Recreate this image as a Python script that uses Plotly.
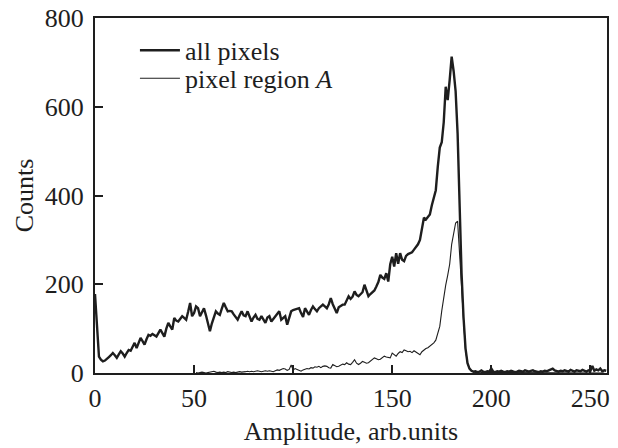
import plotly.graph_objects as go

amp_all = list(range(0, 259))
counts_all = [
    178, 110, 37, 30, 26, 28, 33, 36, 40, 45,
    40, 34, 42, 49, 44, 37, 45, 52, 50, 60,
    68, 56, 66, 79, 72, 64, 76, 86, 84, 88,
    85, 82, 90, 98, 90, 82, 100, 113, 105, 98,
    124, 118, 116, 122, 128, 124, 120, 138, 158, 128,
    135, 150, 146, 128, 138, 146, 130, 110, 94, 112,
    125, 139, 134, 131, 145, 158, 148, 139, 140, 139,
    132, 125, 120, 130, 139, 130, 128, 139, 126, 116,
    125, 131, 122, 120, 128, 120, 113, 125, 128, 116,
    122, 128, 134, 139, 120, 124, 128, 109, 125, 139,
    142, 143, 145, 146, 135, 126, 146, 138, 131, 142,
    150, 144, 139, 146, 150, 154, 150, 146, 155, 169,
    155, 146, 135, 148, 152, 154, 154, 165, 173, 167,
    172, 184, 176, 173, 178, 182, 199, 185, 173, 178,
    182, 186, 195, 205, 221, 215, 212, 225, 206, 245,
    262, 240, 270, 246, 270, 255, 252, 264, 268, 270,
    272, 278, 284, 290, 300, 330, 350, 346, 352, 357,
    378, 398, 412, 465, 508, 520, 565, 645, 615, 660,
    713, 680, 635, 540, 360, 225, 125, 55, 22, 10,
    5, 3, 4, 2, 3, 6, 3, 2, 4, 3,
    10, 3, 2, 4, 3, 5, 3, 2, 4, 3,
    5, 4, 2, 3, 5, 4, 3, 6, 4, 3,
    5, 6, 4, 3, 2, 4, 3, 5, 4, 6,
    8, 10, 6, 4, 3, 5, 4, 6, 5, 3,
    7, 4, 3, 6, 5, 4, 7, 5, 3, 6,
    4, 16, 5, 8, 6, 10, 4, 6, 5,
]

amp_a = list(range(51, 259))
counts_a = [
    1, 0, 1, 2, 1, 0, 1, 2, 3,
    4, 2, 1, 2, 1, 2, 1, 3, 2, 1,
    2, 1, 2, 3, 2, 2, 3, 4, 3, 4,
    3, 4, 5, 4, 3, 4, 5, 4, 5, 4,
    3, 5, 7, 6, 8, 10, 9, 6, 8, 18,
    7, 10, 8, 6, 4, 7, 8, 10, 9, 12,
    11, 14, 13, 15, 12, 15, 16, 15, 12, 11,
    19, 16, 14, 15, 18, 20, 19, 23, 20, 19,
    24, 30, 22, 19, 22, 26, 24, 22, 23, 27,
    30, 34, 32, 30, 31, 35, 38, 36, 35, 34,
    45, 42, 38, 44, 48, 46, 52, 50, 48, 49,
    46, 50, 47, 43, 41, 48, 52, 55, 57, 60,
    64, 68, 74, 88, 105, 140, 175, 198, 220, 245,
    290, 312, 338, 342, 280, 195, 118, 52, 22, 10,
    5, 2, 1, 1, 0, 1, 1, 0, 1, 1,
    0, 1, 1, 0, 1, 1, 0, 1, 1, 0,
    1, 1, 0, 1, 1, 0, 1, 1, 0, 1,
    1, 0, 1, 1, 0, 1, 1, 0, 1, 1,
    0, 1, 1, 0, 1, 1, 0, 1, 1, 0,
    1, 1, 0, 1, 1, 0, 1, 1, 0, 1,
    1, 0, 1, 1, 0, 1, 1, 0,
]

x_ticks = [0, 50, 100, 150, 200, 250]
y_ticks = [0, 200, 400, 600, 800]

FONT = "Liberation Serif"
INK = "#1e1e1e"

fig = go.Figure()
fig.add_trace(go.Scatter(x=amp_all, y=counts_all, mode="lines", name="all pixels",
                         line=dict(color=INK, width=2.4), legend="legend", showlegend=True))
fig.add_trace(go.Scatter(x=amp_a[:len(counts_a)], y=counts_a, mode="lines",
                         name="pixel region <i>A</i>",
                         line=dict(color=INK, width=1.1), legend="legend2", showlegend=True))

legend_common = dict(font=dict(family=FONT, size=26, color=INK), bgcolor="rgba(0,0,0,0)",
                     xanchor="left", yanchor="middle", itemwidth=40, visible=True)
fig.update_layout(
    width=618, height=448,
    margin=dict(l=95, r=11, t=18, b=75, autoexpand=False),
    paper_bgcolor="white", plot_bgcolor="white",
    showlegend=True,
    font=dict(family=FONT, size=26, color=INK),
    legend=dict(x=0.078, y=0.909, **legend_common),
    legend2=dict(x=0.078, y=0.830, **legend_common),
    xaxis=dict(range=[0, 258.4], tickvals=x_ticks, ticks="inside", ticklen=8, tickwidth=1.5,
               tickcolor=INK, showline=True, linewidth=2, linecolor=INK, mirror=True,
               showgrid=False, zeroline=False, ticklabelstandoff=1, automargin=False,
               title=dict(text="Amplitude, arb.units", font=dict(size=26), standoff=10),
               tickfont=dict(size=26)),
    yaxis=dict(range=[0, 800], tickvals=y_ticks, ticks="inside", ticklen=8, tickwidth=1.5,
               tickcolor=INK, showline=True, linewidth=2, linecolor=INK, mirror=True,
               showgrid=False, zeroline=False, ticklabelstandoff=4, automargin=False,
               title=dict(text="Counts", font=dict(size=26), standoff=4),
               tickfont=dict(size=26)),
)

fig.write_html("out.html")
